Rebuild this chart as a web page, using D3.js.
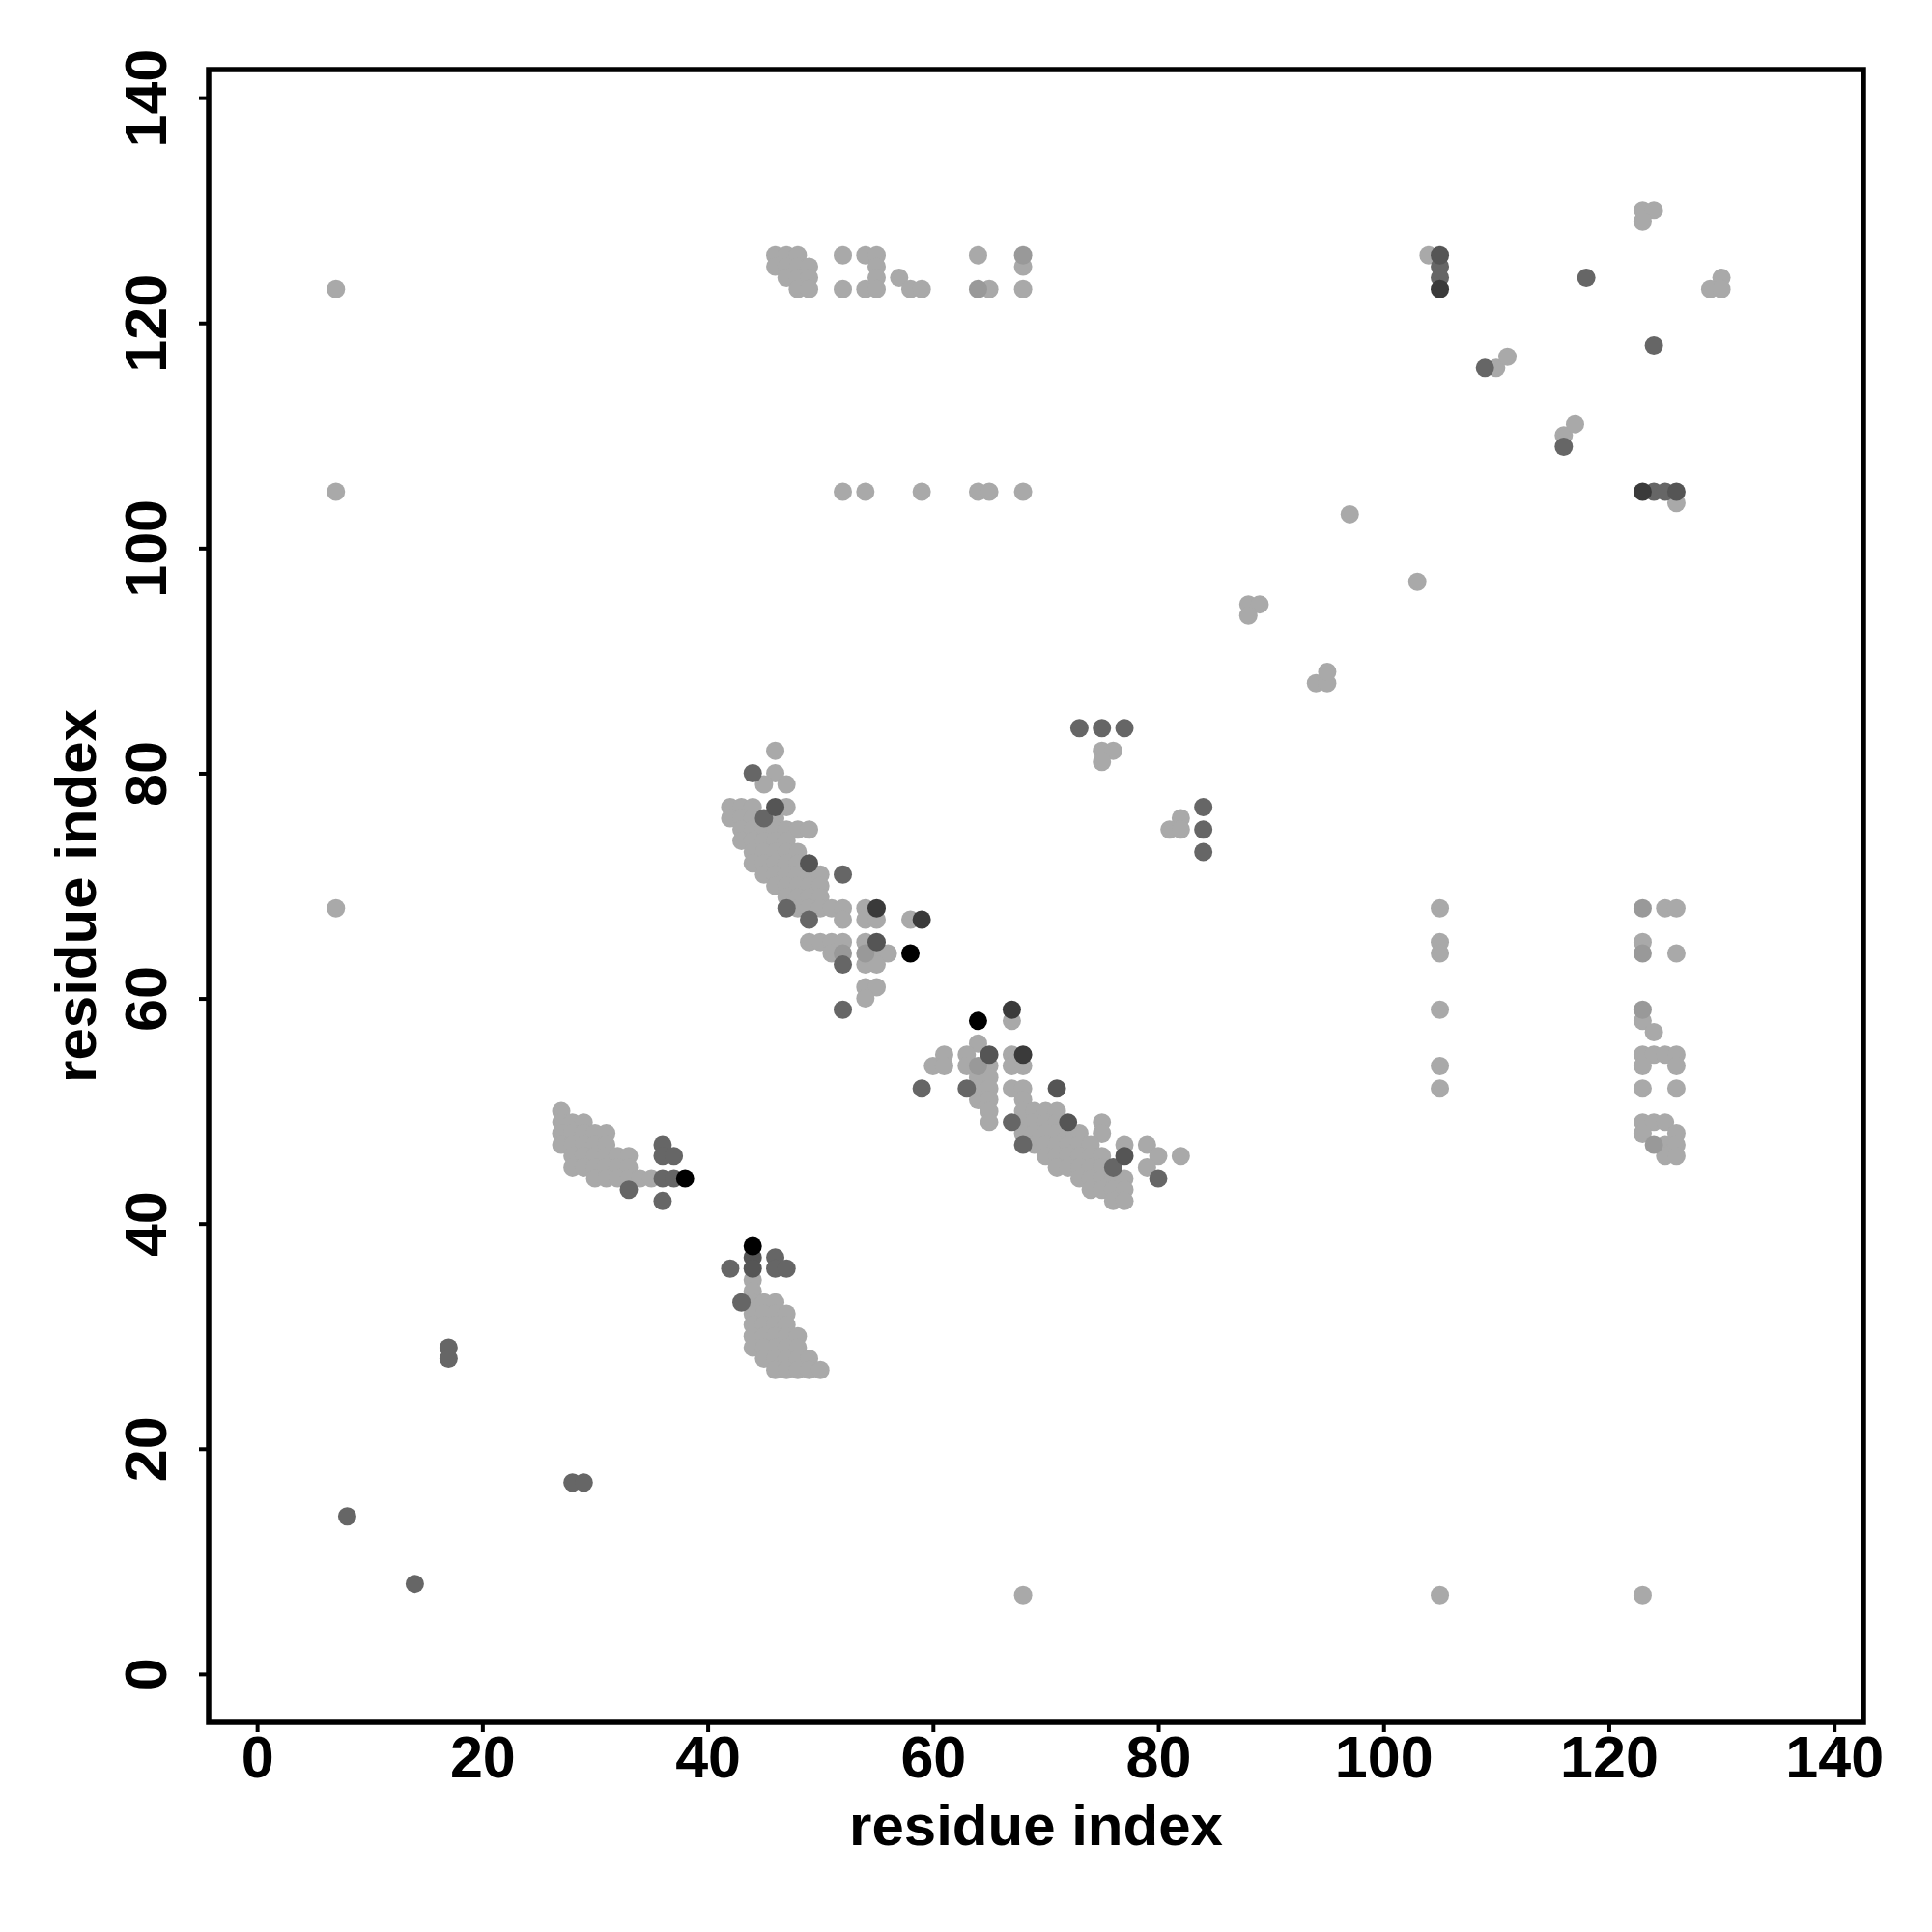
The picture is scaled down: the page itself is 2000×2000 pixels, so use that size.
<!DOCTYPE html>
<html>
<head>
<meta charset="utf-8">
<script src="https://cdn.jsdelivr.net/npm/d3@7"></script>
<style>
  body { margin: 0; background: #fff; }
  text { font-family: "Liberation Sans", Arial, sans-serif; font-weight: bold; }
</style>
</head>
<body>
<svg id="chart"></svg>
<script>
// contact points [x residue, y residue], grouped by shade
const lightPts = [
  [7,123],[7,105],[7,68],[68,7],[105,7],[123,7],
  [46,126],[47,126],[48,126],[46,125],[47,125],[48,125],[49,125],[47,124],[48,124],[49,124],[48,123],[49,123],
  [52,126],[52,123],[54,126],[55,126],[55,125],[55,124],[54,123],[55,123],[57,124],[58,123],[59,123],
  [64,126],[65,123],[68,125],[68,123],
  [52,105],[54,105],[59,105],[64,105],[65,105],[68,105],
  [104,126],[123,130],[124,130],[123,129],[130,124],[129,123],[130,123],
  [110,116],[111,117],[116,110],[117,111],[126,104],
  [97,103],[103,97],[88,95],[89,95],[88,94],[94,88],[95,88],[95,89],
  [75,82],[76,82],[75,81],[82,76],[81,75],[82,75],
  [105,68],[105,65],[105,64],[105,59],[105,54],[105,52],
  [125,68],[126,68],[123,65],[126,64],[123,58],[124,57],
  [123,55],[124,55],[125,55],[126,55],[123,54],[126,54],[123,52],[126,52],
  [123,49],[124,49],[125,49],[123,48],[126,48],[125,47],[126,47],[125,46],[126,46],
  [46,82],[46,80],[45,79],[47,79],[42,77],[43,77],[44,77],[47,77],[42,76],[43,76],[44,76],[46,76],
  [43,75],[44,75],[45,75],[46,75],[47,75],[48,75],[49,75],
  [43,74],[44,74],[45,74],[46,74],[47,74],
  [44,73],[45,73],[46,73],[47,73],[48,73],
  [44,72],[45,72],[46,72],[47,72],[48,72],
  [45,71],[46,71],[47,71],[48,71],[49,71],[50,71],
  [46,70],[47,70],[48,70],[49,70],[50,70],
  [47,69],[48,69],[49,69],[50,69],
  [48,68],[49,68],[50,68],[51,68],[52,68],[54,68],
  [52,67],[54,67],[55,67],[58,67],
  [49,65],[50,65],[51,65],[52,65],[54,65],
  [51,64],[55,64],[56,64],
  [54,63],[55,63],[54,61],[55,61],[54,60],
  [64,56],[67,58],[61,55],[63,55],[67,55],[60,54],[61,54],[63,54],[65,54],[67,54],[68,54],
  [64,53],[65,53],[64,52],[65,52],[67,52],[68,52],[64,51],[65,51],[68,51],[65,50],[65,49],
  [68,50],[69,50],[70,50],[71,50],
  [68,49],[69,49],[70,49],[71,49],[75,49],
  [68,48],[69,48],[70,48],[71,48],[72,48],[73,48],[75,48],
  [69,47],[70,47],[71,47],[72,47],[73,47],[74,47],[77,47],[79,47],
  [70,46],[71,46],[72,46],[73,46],[74,46],[75,46],[80,46],[82,46],
  [71,45],[72,45],[73,45],[74,45],[75,45],[79,45],
  [73,44],[74,44],[75,44],[76,44],[77,44],
  [74,43],[75,43],[76,43],[77,43],
  [76,42],[77,42],
  [27,50],[27,49],[28,49],[29,49],[27,48],[28,48],[29,48],[30,48],[31,48],
  [27,47],[28,47],[29,47],[30,47],[31,47],
  [28,46],[29,46],[30,46],[31,46],[32,46],[33,46],
  [28,45],[29,45],[30,45],[31,45],[32,45],[33,45],
  [30,44],[31,44],[32,44],[33,44],[34,44],[35,44],
  [44,35],[44,34],[44,33],[45,33],[46,33],[44,32],[45,32],[46,32],[47,32],
  [44,31],[45,31],[46,31],[47,31],[44,30],[45,30],[46,30],[47,30],[48,30],
  [44,29],[45,29],[46,29],[47,29],[48,29],[45,28],[46,28],[47,28],[48,28],[49,28],
  [46,27],[47,27],[48,27],[49,27],[50,27]
];
const midPts = [[68,126],[64,123],[123,68],[123,64],[123,59],[124,47],[64,54],[52,64],[54,64]];
const darkPts = [
  [8,14],[14,8],[17,29],[17,28],[28,17],[29,17],
  [73,84],[75,84],[77,84],[84,77],[84,75],[84,73],
  [109,116],[116,109],[118,124],[124,118],[105,125],[105,124],[124,105],[125,105],
  [44,80],[45,76],[47,68],[49,67],[52,63],[52,59],[52,71],
  [59,52],[63,52],[67,49],[68,47],[76,45],[80,44],
  [36,47],[36,46],[37,46],[36,44],[37,44],[33,43],[36,42],
  [42,36],[43,33],[46,37],[46,36],[47,36]
];
const darkerPts = [[46,77],[49,72],[55,65],[44,37],[44,36],[65,55],[72,49],[71,52],[77,46],[105,126],[126,105]];
const darkestPts = [[55,68],[59,67],[67,59],[68,55],[105,123],[123,105]];
const blackPts = [[58,64],[64,58],[38,44],[44,38]];

const shadeGroups = [
  { pts: lightPts, color: "#a9a9a9" },
  { pts: midPts, color: "#999999" },
  { pts: darkPts, color: "#666666" },
  { pts: darkerPts, color: "#555555" },
  { pts: darkestPts, color: "#3a3a3a" },
  { pts: blackPts, color: "#000000" }
];

const tickVals = [0, 20, 40, 60, 80, 100, 120, 140];
const axisTitle = "residue index";

const width = 2000, height = 2000;
const box = { left: 216, right: 1929, top: 72, bottom: 1783 };

const svg = d3.select("#chart").attr("width", width).attr("height", height);
svg.append("rect").attr("width", width).attr("height", height).attr("fill", "#fff");

const x = d3.scaleLinear().domain([-4.3, 142.6]).range([box.left, box.right]);
const y = d3.scaleLinear().domain([-4.3, 142.5]).range([box.bottom, box.top]);

shadeGroups.forEach(g => {
  svg.append("g")
    .selectAll("circle")
    .data(g.pts)
    .enter()
    .append("circle")
    .attr("cx", d => x(d[0]))
    .attr("cy", d => y(d[1]))
    .attr("r", 9.5)
    .attr("fill", g.color);
});

const xAxis = svg.append("g")
  .attr("transform", `translate(0,${box.bottom})`)
  .call(d3.axisBottom(x).tickValues(tickVals).tickSize(10).tickFormat(d => d));
xAxis.select(".domain").remove();
xAxis.selectAll("line").attr("stroke", "#000").attr("stroke-width", 4);
xAxis.selectAll("text").attr("y", 57).attr("dy", null).attr("fill", "#000").style("font-size", "61px");

const yAxis = svg.append("g")
  .attr("transform", `translate(${box.left},0)`)
  .call(d3.axisLeft(y).tickValues(tickVals).tickSize(10).tickFormat(d => d));
yAxis.select(".domain").remove();
yAxis.selectAll("line").attr("stroke", "#000").attr("stroke-width", 4);
yAxis.selectAll("text")
  .attr("x", null).attr("dy", null)
  .attr("transform", "translate(-44,0) rotate(-90)")
  .attr("text-anchor", "middle")
  .attr("fill", "#000")
  .style("font-size", "61px");

svg.append("rect")
  .attr("x", box.left).attr("y", box.top)
  .attr("width", box.right - box.left).attr("height", box.bottom - box.top)
  .attr("fill", "none").attr("stroke", "#000").attr("stroke-width", 5.5);

svg.append("text")
  .attr("x", (box.left + box.right) / 2).attr("y", 1910)
  .attr("text-anchor", "middle")
  .style("font-size", "60px")
  .text(axisTitle);

svg.append("text")
  .attr("transform", `translate(99,${(box.top + box.bottom) / 2}) rotate(-90)`)
  .attr("text-anchor", "middle")
  .style("font-size", "60px")
  .text(axisTitle);
</script>
</body>
</html>
